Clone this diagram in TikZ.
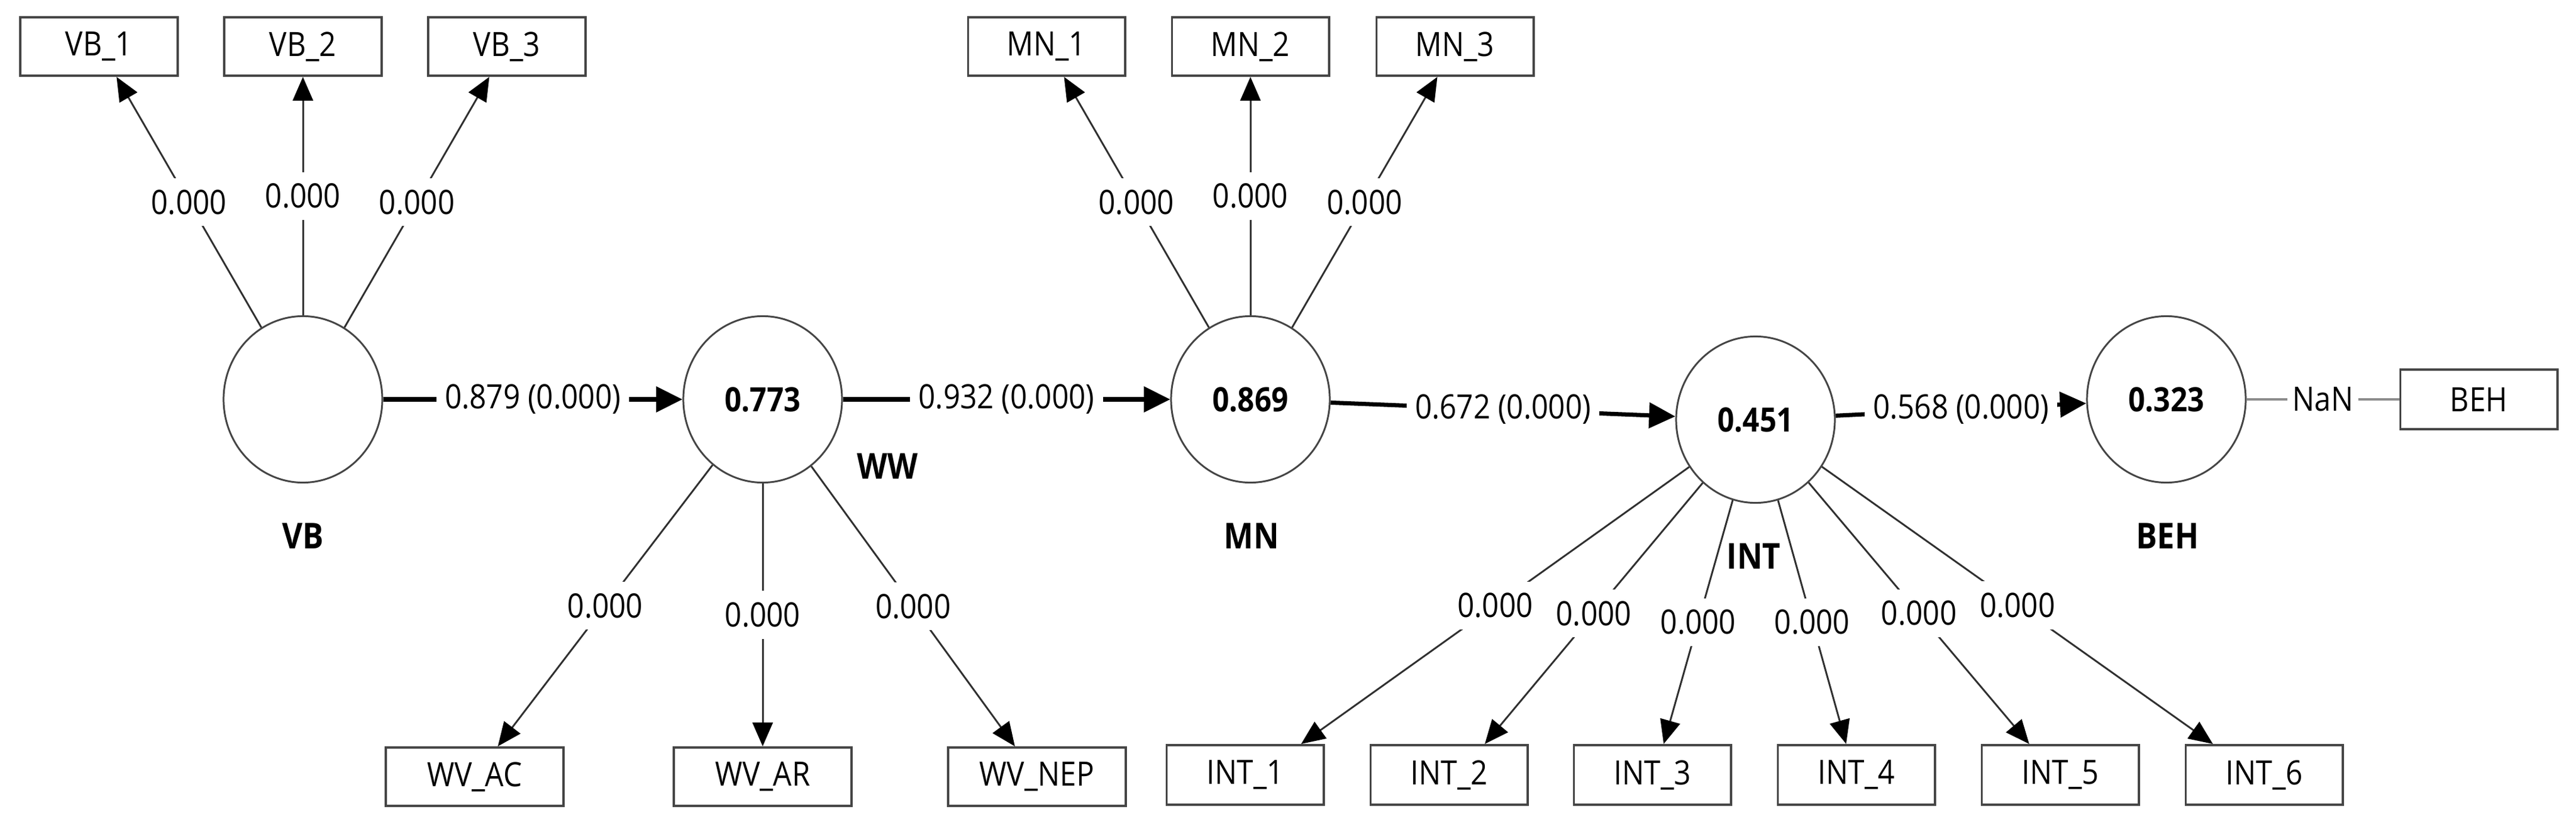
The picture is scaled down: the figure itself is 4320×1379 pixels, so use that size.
\documentclass[tikz,border=0pt]{standalone}
\usepackage{fontspec}
\setmainfont[FakeStretch=0.88]{Open Sans}
\usetikzlibrary{arrows.meta,shapes.geometric}
\definecolor{lineC}{HTML}{303030}
\definecolor{boxC}{HTML}{454545}
\definecolor{circC}{HTML}{454545}
\definecolor{nanC}{HTML}{8C8C8C}
\begin{document}
\begin{tikzpicture}[x=0.01cm,y=-0.01cm,
  ind/.style={rectangle,draw=boxC,line width=1.1pt,minimum width=2.63cm,minimum height=0.98cm,inner sep=0pt,font=\fontsize{16}{19}\selectfont},
  wind/.style={ind,minimum width=2.97cm},
  lat/.style={ellipse,draw=circC,line width=0.85pt,minimum width=2.66cm,minimum height=2.79cm,inner sep=0pt,font=\bfseries\fontsize{16}{19}\selectfont},
  latname/.style={inner sep=0pt,font=\bfseries\fontsize{17}{20}\selectfont},
  load/.style={draw=lineC,line width=0.85pt,-{Triangle[length=0.4cm,width=0.34cm,color=black]}},
  pathar/.style={draw=black,line width=2pt,-{Triangle[length=0.44cm,width=0.42cm,color=black]}},
  lbl/.style={fill=white,inner xsep=4pt,inner ysep=5.5pt,font=\fontsize{16}{19}\selectfont},
]
\useasboundingbox (0,0) rectangle (4320,1379);

% top indicators
\node[ind] (vb1) at (166,78) {VB\_1};
\node[ind] (vb2) at (508,78) {VB\_2};
\node[ind] (vb3) at (850,78) {VB\_3};
\node[ind] (mn1) at (1755,78) {MN\_1};
\node[ind] (mn2) at (2097,78) {MN\_2};
\node[ind] (mn3) at (2440,78) {MN\_3};

% latent variables
\node[lat] (VB) at (508,670) {};
\node[lat] (WW) at (1279,670) {0.773};
\node[lat] (MN) at (2097,670) {0.869};
\node[lat] (INT) at (2944,704) {0.451};
\node[lat] (BEH) at (3633,670) {0.323};
\node[ind,minimum height=1cm] (beh) at (4157,670) {BEH};

% latent names
\node[latname] (nVB) at (508,899) {VB};
\node[latname] (nWW) at (1488,782) {WW};
\node[latname] (nMN) at (2099,899) {MN};
\node[latname] (nINT) at (2941,933) {INT};
\node[latname] (nBEH) at (3635,899) {BEH};

% bottom indicators
\node[wind] (wvac) at (796,1303) {WV\_AC};
\node[wind] (wvar) at (1279,1303) {WV\_AR};
\node[wind] (wvnep) at (1739,1303) {WV\_NEP};
\node[ind,minimum height=1cm] (int1) at (2088,1300) {INT\_1};
\node[ind,minimum height=1cm] (int2) at (2430,1300) {INT\_2};
\node[ind,minimum height=1cm] (int3) at (2771,1300) {INT\_3};
\node[ind,minimum height=1cm] (int4) at (3113,1300) {INT\_4};
\node[ind,minimum height=1cm] (int5) at (3455,1300) {INT\_5};
\node[ind,minimum height=1cm] (int6) at (3797,1300) {INT\_6};

% loadings
\draw[load] (VB) -- node[lbl]{0.000} (vb1);
\draw[load] (VB) -- node[lbl]{0.000} (vb2);
\draw[load] (VB) -- node[lbl]{0.000} (vb3);
\draw[load] (MN) -- node[lbl]{0.000} (mn1);
\draw[load] (MN) -- node[lbl]{0.000} (mn2);
\draw[load] (MN) -- node[lbl]{0.000} (mn3);
\draw[load] (WW) -- node[lbl]{0.000} (wvac);
\draw[load] (WW) -- node[lbl]{0.000} (wvar);
\draw[load] (WW) -- node[lbl]{0.000} (wvnep);
\draw[load] (INT) -- node[lbl]{0.000} ([xshift=0.94cm]int1.north);
\draw[load] (INT) -- node[lbl]{0.000} ([xshift=0.60cm]int2.north);
\draw[load] (INT) -- node[lbl]{0.000} ([xshift=0.19cm]int3.north);
\draw[load] (INT) -- node[lbl]{0.000} ([xshift=-0.17cm]int4.north);
\draw[load] (INT) -- node[lbl]{0.000} ([xshift=-0.52cm]int5.north);
\draw[load] (INT) -- node[lbl]{0.000} ([xshift=-0.86cm]int6.north);

% structural paths
\draw[pathar] (VB) -- node[lbl]{0.879 (0.000)} (WW);
\draw[pathar] (WW) -- node[lbl]{0.932 (0.000)} (MN);
\draw[pathar] (MN) -- node[lbl]{0.672 (0.000)} (INT);
\draw[pathar] (INT) -- node[lbl]{0.568 (0.000)} (BEH);
\draw[draw=nanC,line width=1.2pt] (BEH) -- node[lbl,inner xsep=2.5pt]{NaN} (beh);
\end{tikzpicture}
\end{document}
